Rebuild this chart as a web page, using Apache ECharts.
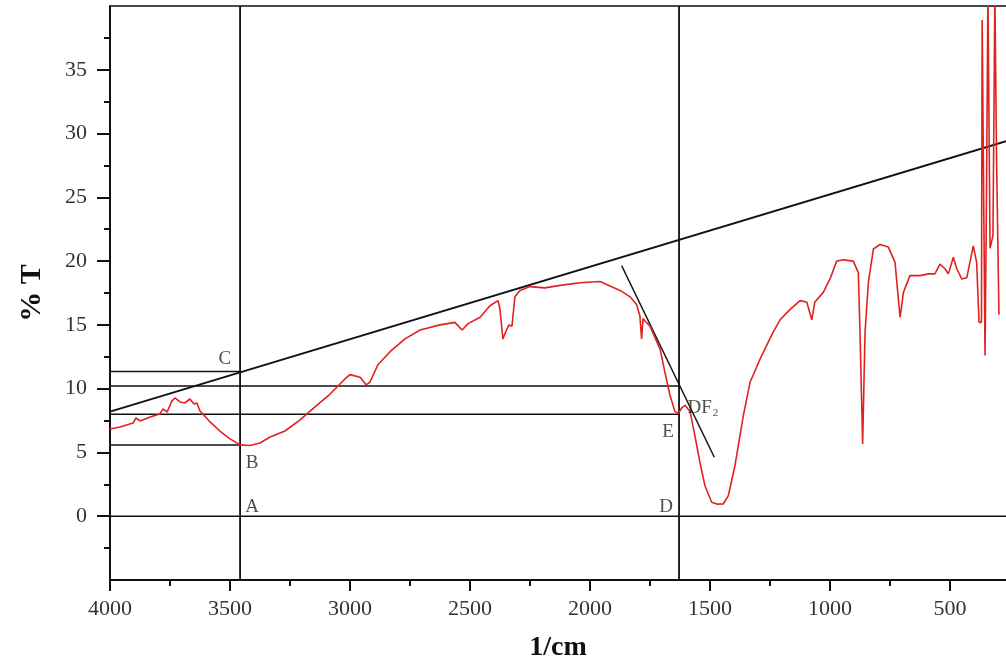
<!DOCTYPE html>
<html>
<head>
<meta charset="utf-8">
<title>FTIR spectrum</title>
<script src="https://cdn.jsdelivr.net/npm/echarts@6/dist/echarts.min.js"></script>
<style>
  html, body { margin: 0; padding: 0; background: #fff; }
  #chart { width: 1006px; height: 662px; }
</style>
</head>
<body>
<div id="chart"></div>
<script>
// spectrum (1/cm, %T)
var wavenumber = [
    4000, 3958, 3904, 3892, 3875, 3833, 3792, 3779, 3762, 3742, 3729, 3708, 3688, 3667, 3650, 3638,
    3625, 3583, 3542, 3500, 3458, 3417, 3375, 3333, 3271, 3208, 3146, 3083, 3021, 3000, 2958, 2933,
    2917, 2883, 2833, 2771, 2708, 2625, 2563, 2533, 2508, 2458, 2417, 2383, 2375, 2363, 2350, 2338,
    2325, 2313, 2292, 2250, 2188, 2125, 2042, 1958, 1875, 1833, 1806, 1792, 1785, 1779, 1771, 1750,
    1708, 1688, 1667, 1646, 1632, 1617, 1604, 1583, 1563, 1542, 1521, 1493, 1471, 1445, 1424, 1396,
    1361, 1333, 1292, 1238, 1208, 1167, 1125, 1097, 1076, 1063, 1028, 1000, 972, 944, 903, 882,
    875, 864, 854, 840, 819, 792, 757, 729, 715, 708, 694, 667, 625, 590, 563, 542,
    521, 507, 486, 472, 451, 430, 403, 389, 379, 369, 366, 361, 354, 348, 342, 333,
    321, 313, 306, 296
];
var transmittance = [
    6.84, 7.0, 7.3, 7.7, 7.47, 7.78, 8.02, 8.41, 8.17, 9.04, 9.27, 8.96, 8.88, 9.19, 8.8, 8.88,
    8.25, 7.39, 6.68, 6.06, 5.59, 5.55, 5.74, 6.21, 6.68, 7.55, 8.57, 9.58, 10.76, 11.1, 10.9, 10.3,
    10.5, 11.9, 12.9, 13.9, 14.6, 15.0, 15.2, 14.6, 15.1, 15.6, 16.5, 16.9, 16.2, 13.9, 14.5, 15.0,
    14.9, 17.2, 17.7, 18.0, 17.9, 18.1, 18.3, 18.4, 17.7, 17.2, 16.6, 15.7, 13.9, 15.5, 15.3, 14.9,
    13.1, 11.3, 9.5, 8.2, 8.07, 8.5, 8.7, 8.2, 6.32, 4.23, 2.39, 1.1, 0.95, 0.96, 1.6, 3.96,
    7.9, 10.5, 12.3, 14.4, 15.4, 16.2, 16.9, 16.8, 15.4, 16.8, 17.55, 18.6, 20.0, 20.1, 20.0, 19.1,
    14.4, 5.67, 14.4, 18.36, 20.95, 21.3, 21.1, 19.9, 17.0, 15.6, 17.55, 18.86, 18.86, 19.0, 19.0, 19.77,
    19.4, 19.0, 20.3, 19.4, 18.6, 18.7, 21.2, 19.9, 15.2, 15.2, 38.9, 38.9, 12.6, 25, 41, 21,
    22, 41, 28, 15.8
];

// construction lines (1/cm, %T)
var lineA = [[3458, -5], [3458, 40]];
var lineD = [[1629, -5], [1629, 40]];
var lineZero = [[4000, 0], [266.67, 0]];
var lineC = [[4000, 11.35], [3458, 11.35]];
var lineDF = [[4000, 10.2], [1625, 10.2]];
var lineE = [[4000, 8.0], [1625, 8.0]];
var lineB = [[4000, 5.59], [3458, 5.59]];
var baseline = [[4000, 8.2], [266.67, 29.4]];
var tangent = [[1868, 19.64], [1482, 4.62]];

// point letters
var letters = [
    { name: 'C', value: [3521, 12.3] },
    { name: 'B', value: [3408, 4.2] },
    { name: 'A', value: [3408, 0.7] },
    { name: 'D', value: [1683, 0.7] },
    { name: 'E', value: [1675, 6.6] },
    { name: 'DF2', value: [1530, 8.5] }
];

// ticks
var xMajor = [4000, 3500, 3000, 2500, 2000, 1500, 1000, 500];
var xMinor = [3750, 3250, 2750, 2250, 1750, 1250, 750];
var yMajor = [0, 5, 10, 15, 20, 25, 30, 35];
var yMinor = [-2.5, 2.5, 7.5, 12.5, 17.5, 22.5, 27.5, 32.5, 37.5];

var serif = '"Liberation Serif", "DejaVu Serif", serif';

function blackLine(data, width) {
    return {
        type: 'line',
        data: data,
        showSymbol: false,
        silent: true,
        lineStyle: { color: '#111', width: width || 1.5 },
        z: 3
    };
}

function plain(v) {
    return String(v);
}

var myChart = echarts.init(document.getElementById('chart')),
    option = {
        backgroundColor: '#fff',
        animation: false,
        grid: {
            left: 110,
            top: 6,
            width: 896,
            height: 574,
            containLabel: false,
            outerBoundsMode: 'none'
        },
        xAxis: [
            {
                type: 'value',
                inverse: true,
                min: 266.67,
                max: 4000,
                name: '1/cm',
                nameLocation: 'middle',
                nameGap: 54,
                nameTextStyle: { fontFamily: serif, fontSize: 28, fontWeight: 'bold', color: '#111' },
                axisLine: { show: true, onZero: false, lineStyle: { color: '#111', width: 2 } },
                axisTick: { show: true, customValues: xMajor, length: 11, lineStyle: { color: '#111', width: 2 } },
                axisLabel: { customValues: xMajor, formatter: plain, margin: 18, fontFamily: serif, fontSize: 22, color: '#333' },
                splitLine: { show: false }
            },
            {
                type: 'value',
                inverse: true,
                min: 266.67,
                max: 4000,
                position: 'bottom',
                axisLine: { show: false, onZero: false },
                axisTick: { show: true, customValues: xMinor, length: 6, lineStyle: { color: '#111', width: 2 } },
                axisLabel: { show: false },
                splitLine: { show: false }
            },
            {
                type: 'value',
                inverse: true,
                min: 266.67,
                max: 4000,
                position: 'top',
                axisLine: { show: true, onZero: false, lineStyle: { color: '#111', width: 1.5 } },
                axisTick: { show: false },
                axisLabel: { show: false },
                splitLine: { show: false }
            }
        ],
        yAxis: [
            {
                type: 'value',
                min: -5,
                max: 40,
                name: '% T',
                nameLocation: 'middle',
                nameGap: 63,
                nameRotate: 90,
                nameTextStyle: { fontFamily: serif, fontSize: 30, fontWeight: 'bold', color: '#111' },
                axisLine: { show: true, onZero: false, lineStyle: { color: '#111', width: 2 } },
                axisTick: { show: true, customValues: yMajor, length: 13, lineStyle: { color: '#111', width: 2 } },
                axisLabel: { customValues: yMajor, formatter: plain, margin: 23, fontFamily: serif, fontSize: 22, color: '#333' },
                splitLine: { show: false }
            },
            {
                type: 'value',
                min: -5,
                max: 40,
                position: 'left',
                axisLine: { show: false, onZero: false },
                axisTick: { show: true, customValues: yMinor, length: 6, lineStyle: { color: '#111', width: 2 } },
                axisLabel: { show: false },
                splitLine: { show: false }
            }
        ],
        series: [
            blackLine(lineA, 1.8),
            blackLine(lineD, 1.8),
            blackLine(lineZero),
            blackLine(lineC),
            blackLine(lineDF),
            blackLine(lineE),
            blackLine(lineB),
            blackLine(baseline, 1.8),
            blackLine(tangent),
            {
                name: 'spectrum',
                type: 'line',
                data: wavenumber.map(function (w, i) { return [w, transmittance[i]]; }),
                showSymbol: false,
                clip: true,
                lineStyle: { color: '#e0221f', width: 1.6 },
                z: 4
            },
            {
                type: 'scatter',
                data: letters,
                symbolSize: 0,
                silent: true,
                label: {
                    show: true,
                    position: 'inside',
                    formatter: function (p) {
                        return p.name === 'DF2' ? '{t|DF}{s|2}' : '{t|' + p.name + '}';
                    },
                    rich: {
                        t: { fontFamily: serif, fontSize: 19, color: '#222' },
                        s: { fontFamily: serif, fontSize: 11, color: '#222', padding: [10, 0, 0, 1] }
                    }
                },
                z: 5
            }
        ]
    };

myChart.setOption(option);
</script>
</body>
</html>
